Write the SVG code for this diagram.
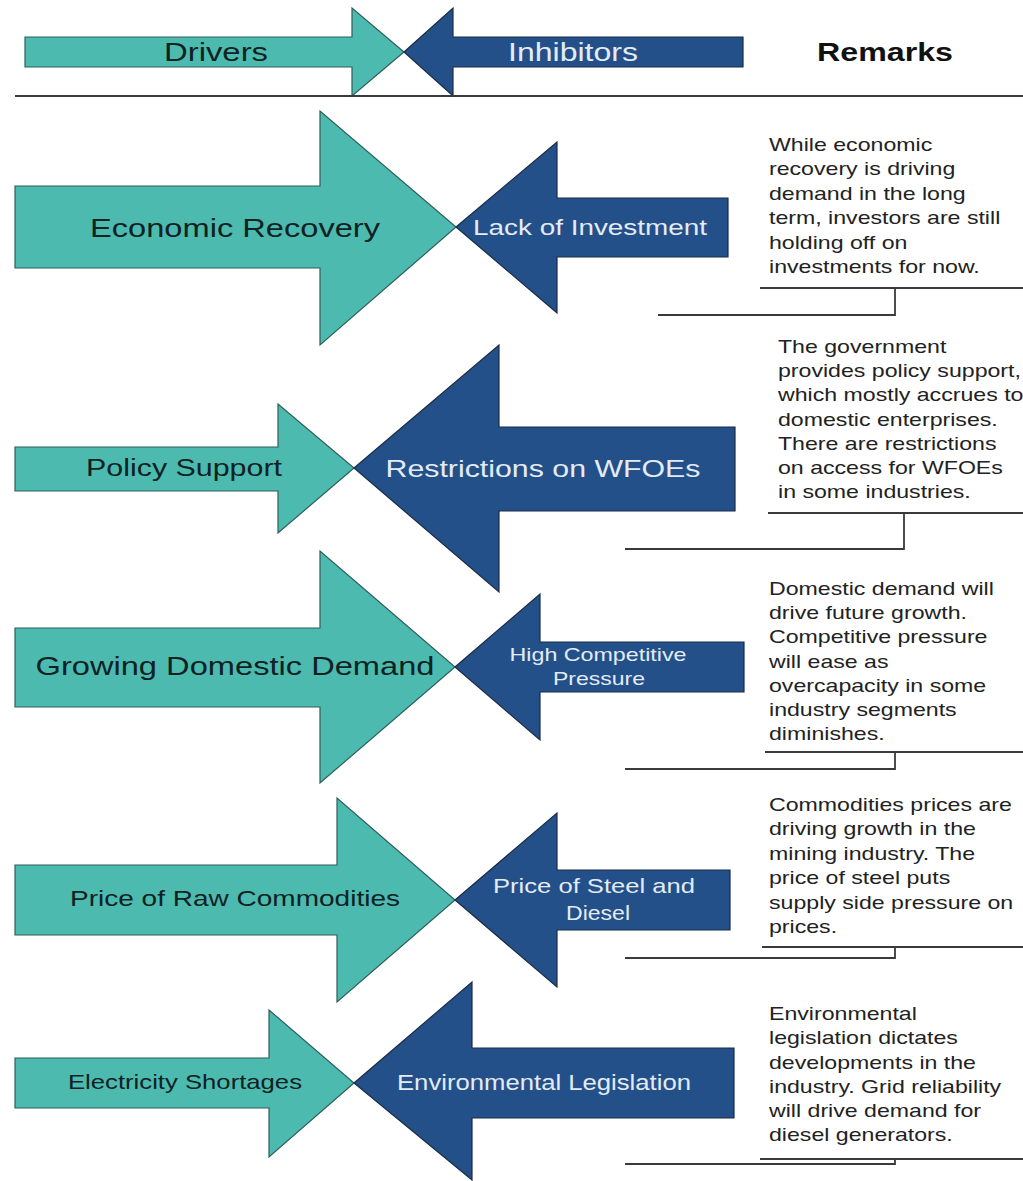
<svg xmlns="http://www.w3.org/2000/svg" width="1023" height="1181" viewBox="0 0 1023 1181">
<style>
.drv{fill:#4dbab0;stroke:#2d5f5a;stroke-width:1.2}
.inh{fill:#24508a;stroke:#1b2c44;stroke-width:1.2}
.dt{font-family:"Liberation Sans",Arial,sans-serif;fill:#0f2222;text-anchor:middle}
.it{font-family:"Liberation Sans",Arial,sans-serif;fill:#e3ebf4;text-anchor:middle}
.rm{font-family:"Liberation Sans",Arial,sans-serif;fill:#222;font-size:18.5px}
.ln{stroke:#3a3a3a;stroke-width:1.8;fill:none}
</style>
<rect width="1023" height="1181" fill="#fff"/>

<g id="header">
  <polygon class="drv" points="25,37 352,37 352,8 404,52 352,96 352,67 25,67"/>
  <polygon class="inh" points="404,52 453,8 453,37 743,37 743,67 453,67 453,96"/>
  <text class="dt" x="216" y="61" font-size="26" textLength="104" lengthAdjust="spacingAndGlyphs">Drivers</text>
  <text class="it" x="573" y="61" font-size="26" textLength="130" lengthAdjust="spacingAndGlyphs">Inhibitors</text>
  <text x="817" y="61" font-size="25" font-weight="bold" font-family="Liberation Sans, Arial, sans-serif" fill="#111" textLength="136" lengthAdjust="spacingAndGlyphs">Remarks</text>
</g>

<g id="row1-driver">
  <polygon class="drv" points="15,186 320,186 320,111 456,227 320,345 320,268 15,268"/>
  <text class="dt" x="235" y="237" font-size="25.5" textLength="290" lengthAdjust="spacingAndGlyphs">Economic Recovery</text>
</g>
<g id="row1-inhibitor">
  <polygon class="inh" points="456,227 557,142 557,198 728,198 728,257 557,257 557,313"/>
  <text class="it" x="590" y="235" font-size="22" textLength="234" lengthAdjust="spacingAndGlyphs">Lack of Investment</text>
</g>
<g id="row1-remark">
  <text class="rm" transform="translate(769,151) scale(1.25,1)"><tspan x="0" y="0">While economic</tspan><tspan x="0" y="24.4">recovery is driving</tspan><tspan x="0" y="48.8">demand in the long</tspan><tspan x="0" y="73.2">term, investors are still</tspan><tspan x="0" y="97.6">holding off on</tspan><tspan x="0" y="122">investments for now.</tspan></text>
</g>

<g id="row2-driver">
  <polygon class="drv" points="15,447 278,447 278,404 354,468 278,533 278,491 15,491"/>
  <text class="dt" x="184" y="476" font-size="23.5" textLength="196" lengthAdjust="spacingAndGlyphs">Policy Support</text>
</g>
<g id="row2-inhibitor">
  <polygon class="inh" points="354,468 499,345 499,427 735,427 735,511 499,511 499,592"/>
  <text class="it" x="543" y="477" font-size="24" textLength="315" lengthAdjust="spacingAndGlyphs">Restrictions on WFOEs</text>
</g>
<g id="row2-remark">
  <text class="rm" transform="translate(778,353) scale(1.25,1)"><tspan x="0" y="0">The government</tspan><tspan x="0" y="24.2">provides policy support,</tspan><tspan x="0" y="48.4">which mostly accrues to</tspan><tspan x="0" y="72.6">domestic enterprises.</tspan><tspan x="0" y="96.8">There are restrictions</tspan><tspan x="0" y="121">on access for WFOEs</tspan><tspan x="0" y="145.2">in some industries.</tspan></text>
</g>

<g id="row3-driver">
  <polygon class="drv" points="15,628 320,628 320,551 455,667 320,783 320,707 15,707"/>
  <text class="dt" x="235" y="675" font-size="26" textLength="399" lengthAdjust="spacingAndGlyphs">Growing Domestic Demand</text>
</g>
<g id="row3-inhibitor">
  <polygon class="inh" points="455,667 540,594 540,642 744,642 744,692 540,692 540,740"/>
  <text class="it" x="598" y="661" font-size="18.5" textLength="177" lengthAdjust="spacingAndGlyphs">High Competitive</text>
  <text class="it" x="599" y="685" font-size="18.5" textLength="92" lengthAdjust="spacingAndGlyphs">Pressure</text>
</g>
<g id="row3-remark">
  <text class="rm" transform="translate(769,595) scale(1.25,1)"><tspan x="0" y="0">Domestic demand will</tspan><tspan x="0" y="24.2">drive future growth.</tspan><tspan x="0" y="48.4">Competitive pressure</tspan><tspan x="0" y="72.6">will ease as</tspan><tspan x="0" y="96.8">overcapacity in some</tspan><tspan x="0" y="121">industry segments</tspan><tspan x="0" y="145.2">diminishes.</tspan></text>
</g>

<g id="row4-driver">
  <polygon class="drv" points="15,865 337,865 337,798 455,900 337,1002 337,935 15,935"/>
  <text class="dt" x="235" y="906" font-size="22.5" textLength="330" lengthAdjust="spacingAndGlyphs">Price of Raw Commodities</text>
</g>
<g id="row4-inhibitor">
  <polygon class="inh" points="455,900 557,813 557,870 730,870 730,930 557,930 557,987"/>
  <text class="it" x="594" y="893" font-size="21" textLength="202" lengthAdjust="spacingAndGlyphs">Price of Steel and</text>
  <text class="it" x="598" y="920" font-size="21" textLength="64" lengthAdjust="spacingAndGlyphs">Diesel</text>
</g>
<g id="row4-remark">
  <text class="rm" transform="translate(769,811) scale(1.25,1)"><tspan x="0" y="0">Commodities prices are</tspan><tspan x="0" y="24.4">driving growth in the</tspan><tspan x="0" y="48.8">mining industry. The</tspan><tspan x="0" y="73.2">price of steel puts</tspan><tspan x="0" y="97.6">supply side pressure on</tspan><tspan x="0" y="122">prices.</tspan></text>
</g>

<g id="row5-driver">
  <polygon class="drv" points="15,1058 269,1058 269,1010 354,1083 269,1157 269,1108 15,1108"/>
  <text class="dt" x="185" y="1089" font-size="21" textLength="234" lengthAdjust="spacingAndGlyphs">Electricity Shortages</text>
</g>
<g id="row5-inhibitor">
  <polygon class="inh" points="354,1083 472,982 472,1048 734,1048 734,1118 472,1118 472,1180"/>
  <text class="it" x="544" y="1090" font-size="21.5" textLength="294" lengthAdjust="spacingAndGlyphs">Environmental Legislation</text>
</g>
<g id="row5-remark">
  <text class="rm" transform="translate(769,1020) scale(1.25,1)"><tspan x="0" y="0">Environmental</tspan><tspan x="0" y="24.3">legislation dictates</tspan><tspan x="0" y="48.6">developments in the</tspan><tspan x="0" y="72.9">industry. Grid reliability</tspan><tspan x="0" y="97.2">will drive demand for</tspan><tspan x="0" y="121.5">diesel generators.</tspan></text>
</g>

<g id="connectors">
  <line class="ln" x1="15" y1="96" x2="1023" y2="96"/>
  <polyline class="ln" points="1023,288 760,288 895,288 895,315 658,315"/>
  <polyline class="ln" points="1023,513 768,513 904,513 904,549 625,549"/>
  <polyline class="ln" points="1023,752 765,752 895,752 895,769 625,769"/>
  <polyline class="ln" points="1023,947 762,947 895,947 895,958 625,958"/>
  <polyline class="ln" points="1023,1159 760,1159 895,1159 895,1164 625,1164"/>
</g>
</svg>
